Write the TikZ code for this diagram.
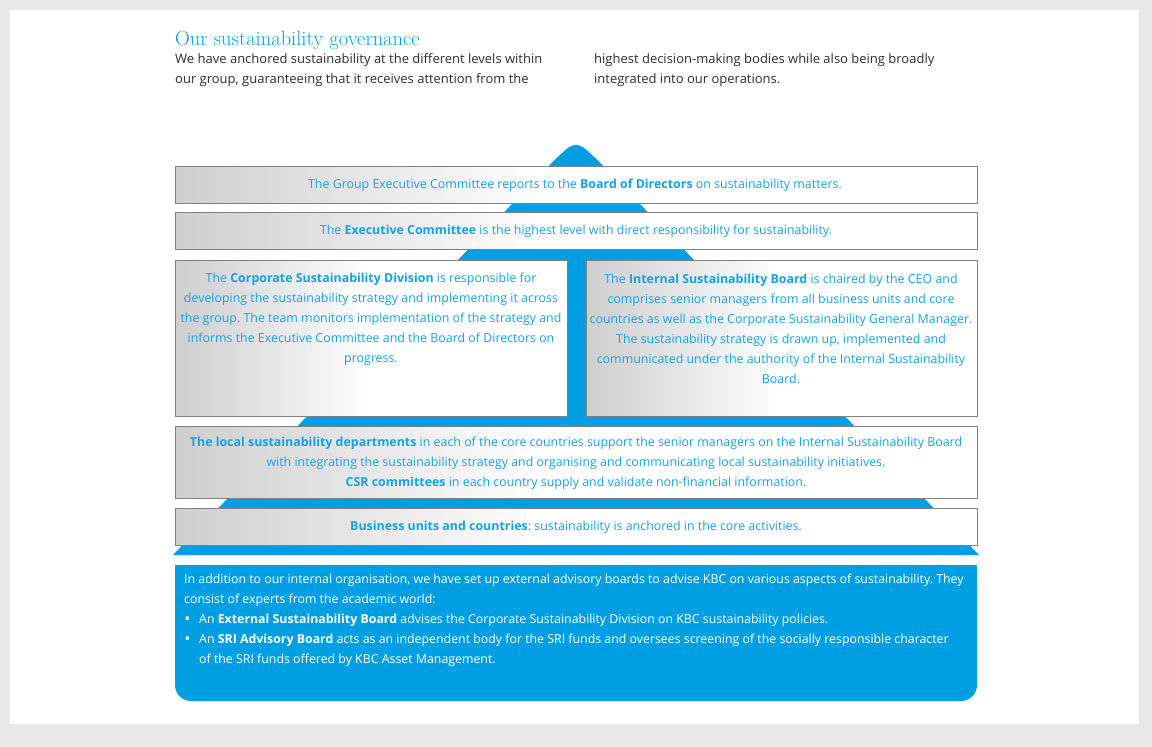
\documentclass[tikz,border=0pt]{standalone}
\usepackage{xcolor}
\usepackage{tikz}
\usepackage{fontspec}
\newfontfamily\bodyfont{Open Sans}
\definecolor{boxGray}{RGB}{206,206,206}
\pgfdeclarehorizontalshading{wideFade}{100bp}{color(0bp)=(boxGray); color(25bp)=(boxGray); color(48bp)=(white); color(100bp)=(white)}
\pgfdeclarehorizontalshading{halfFade}{100bp}{color(0bp)=(boxGray); color(25bp)=(boxGray); color(50bp)=(white); color(100bp)=(white)}
\frenchspacing

\begin{document}
\begin{tikzpicture}[x=1pt,y=-1pt,
  boxtext/.style={text=textBlue,font=\bodyfont\fontsize{12.4}{20}\selectfont,align=center,inner sep=0pt},
  headtext/.style={text=darkText,font=\bodyfont\fontsize{13}{20}\selectfont,anchor=base west,inner sep=0pt},
  notetext/.style={text=white,font=\bodyfont\fontsize{12.35}{20}\selectfont,anchor=base west,align=left,inner sep=0pt},
  notedot/.style={text=white,font=\bodyfont\fontsize{16}{20}\selectfont,anchor=base,inner sep=0pt},
  tier/.style={draw=lineGray,line width=0.8pt}]
\definecolor{pageGray}{RGB}{232,232,232}
\definecolor{kbcBlue}{RGB}{0,159,227}
\definecolor{textBlue}{RGB}{20,162,226}
\definecolor{lineGray}{RGB}{128,128,128}
\definecolor{darkText}{RGB}{45,45,45}
\path[use as bounding box,fill=pageGray] (0,0) rectangle (1152,747);

\path[fill=white] (10,10) rectangle (1139,724);

\node[anchor=base west,inner sep=0pt,text=kbcBlue,font=\fontsize{20.5}{22}\selectfont] (title) at (175,45) {Our sustainability governance};

\node[headtext] (introA) at (175,63.5) {We have anchored sustainability at the different levels within};

\node[headtext] (introB) at (175,83.5) {our group, guaranteeing that it receives attention from the};

\node[headtext] (introC) at (594,63.5) {highest decision-making bodies while also being broadly};

\node[headtext] (introD) at (594,83.5) {integrated into our operations.};

\path[fill=kbcBlue] (173,555) -- (553.6,161) .. controls (576,139.4) .. (598.4,161) -- (979,555) -- cycle;

\path[tier,shading=wideFade] (175,166) rectangle (977,203);

\path[tier,shading=wideFade] (175,212) rectangle (977,249);

\path[tier,shading=halfFade] (175,260) rectangle (567,416);

\path[tier,shading=halfFade] (586,260) rectangle (977,416);

\path[tier,shading=wideFade] (175,426) rectangle (977,498);

\path[tier,shading=wideFade] (175,508) rectangle (977,545);

\path[fill=kbcBlue,rounded corners=16pt] (175,565) rectangle (977,701);

\path[fill=kbcBlue] (175,565) rectangle (977,620);

\node[boxtext] (board) at (575,185) {The Group Executive Committee reports to the \textbf{Board of Directors} on sustainability matters.};

\node[boxtext] (exco) at (576,231) {The \textbf{Executive Committee} is the highest level with direct responsibility for sustainability.};

\node[boxtext] (division) at (371,319) {The \textbf{Corporate Sustainability Division} is responsible for\\
developing the sustainability strategy and implementing it across\\
the group. The team monitors implementation of the strategy and\\
informs the Executive Committee and the Board of Directors on\\
progress.};

\node[boxtext] (isb) at (781,329) {The \textbf{Internal Sustainability Board} is chaired by the CEO and\\
comprises senior managers from all business units and core\\
countries as well as the Corporate Sustainability General Manager.\\
The sustainability strategy is drawn up, implemented and\\
communicated under the authority of the Internal Sustainability\\
Board.};

\node[boxtext] (local) at (576,463) {\textbf{The local sustainability departments} in each of the core countries support the senior managers on the Internal Sustainability Board\\
with integrating the sustainability strategy and organising and communicating local sustainability initiatives.\\
\textbf{CSR committees} in each country supply and validate non-financial information.};

\node[boxtext] (units) at (576,527) {\textbf{Business units and countries}: sustainability is anchored in the core activities.};

\node[notetext] (advisory) at (184,603) {In addition to our internal organisation, we have set up external advisory boards to advise KBC on various aspects of sustainability. They\\
consist of experts from the academic world:};

\node[notedot] (dotA) at (187.5,624) {\textbullet};

\node[notetext] (esb) at (199,623) {An \textbf{External Sustainability Board} advises the Corporate Sustainability Division on KBC sustainability policies.};

\node[notedot] (dotB) at (187.5,644) {\textbullet};

\node[notetext] (sri) at (199,663) {An \textbf{SRI Advisory Board} acts as an independent body for the SRI funds and oversees screening of the socially responsible character\\
of the SRI funds offered by KBC Asset Management.};
\end{tikzpicture}
\end{document}
